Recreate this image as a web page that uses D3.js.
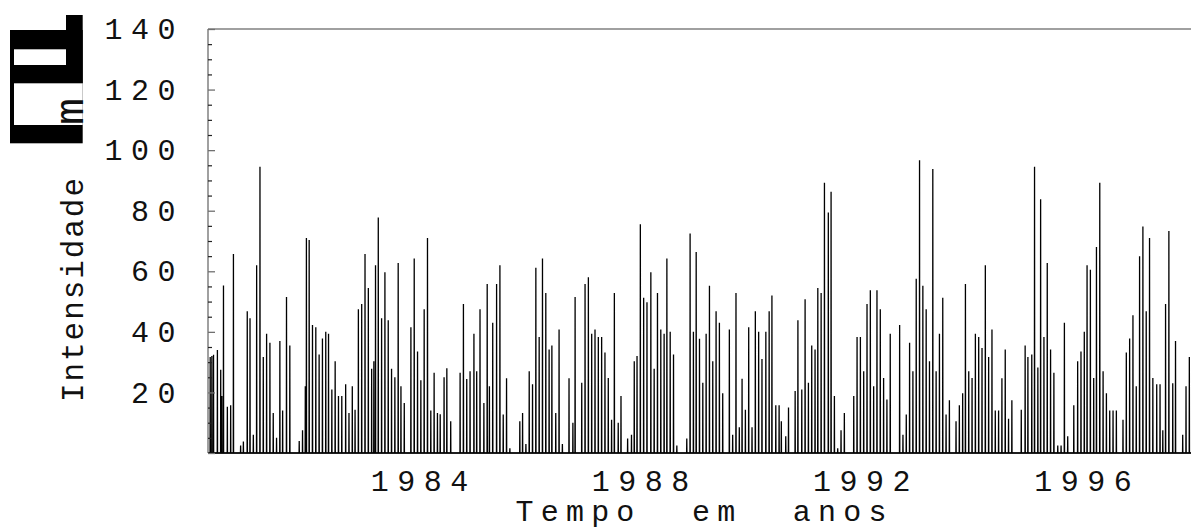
<!DOCTYPE html>
<html>
<head>
<meta charset="utf-8">
<script src="https://cdn.jsdelivr.net/npm/d3@7"></script>
<style>
  html, body { margin: 0; padding: 0; background: #fff; }
  svg { display: block; }
  text { font-family: "Liberation Mono", "DejaVu Sans Mono", monospace; fill: #111; }
</style>
</head>
<body>
<svg id="chart" width="1191" height="528"></svg>
<script>
// Rain events: time in decimal years, intensity in mm
var years80s = [1980.22,1980.25,1980.28,1980.35,1980.41,1980.43,1980.46,1980.53,1980.59,1980.64,
  1980.77,1980.82,1980.89,1980.94,1981.00,1981.06,1981.12,1981.18,1981.24,1981.30,
  1981.36,1981.42,1981.48,1981.53,1981.60,1981.66,1981.83,1981.89,1981.94,1981.96,
  1982.01,1982.07,1982.13,1982.19,1982.25,1982.31,1982.36,1982.42,1982.48,1982.54,
  1982.60,1982.67,1982.73,1982.79,1982.84,1982.90,1982.96,1983.02,1983.08,1983.14,
  1983.18,1983.21,1983.26,1983.32,1983.38,1983.44,1983.50,1983.56,1983.62,1983.67,
  1983.73,1983.85,1983.91,1983.97,1984.03,1984.09,1984.15,1984.21,1984.27,1984.33,
  1984.38,1984.45,1984.50,1984.57,1984.74,1984.80,1984.86,1984.92,1984.99,1985.04,
  1985.10,1985.17,1985.23,1985.27,1985.33,1985.40,1985.46,1985.52,1985.58,1985.64,
  1985.82,1985.87,1985.93,1985.99,1986.05,1986.11,1986.17,1986.23,1986.29,1986.35,
  1986.40,1986.47,1986.53,1986.59,1986.71,1986.78,1986.82,1986.94,1987.00,1987.06,
  1987.12,1987.18,1987.24,1987.30,1987.36,1987.42,1987.48,1987.53,1987.60,1987.65,
  1987.77,1987.84,1987.89,1987.94,1988.00,1988.06,1988.12,1988.19,1988.25,1988.31,
  1988.37,1988.43,1988.48,1988.54,1988.60,1988.66,1988.84,1988.90,1988.96,1989.01,
  1989.07,1989.13,1989.19,1989.25,1989.31,1989.37,1989.43,1989.49,1989.61,1989.67,
  1989.73,1989.79,1989.84,1989.90,1989.96];
var mm80s = [31.7,32,32.4,34,27.5,18.8,55.3,15.3,15.8,65.7,
  2.5,3.8,46.8,44.5,6,62,94.5,31.7,39.4,36.4,
  13.2,5,37,14,51.5,35.5,4,7.5,22,71,
  70.3,42.3,41.5,32.5,37.8,40,39.4,21,30.3,18.8,
  18.8,22.7,13.2,22,14.3,47.5,49.2,65.7,54.5,27.8,
  30.3,62,77.8,44.5,59.7,43.8,27.8,25,62.7,22,
  16.5,41.5,64.2,33.5,24,47.5,71,14,26.5,13.2,
  12.8,25,28,10.5,26.5,49.2,24.4,27,39.4,27,
  47.5,16.5,55.8,22,43,55.8,62,12.7,24.7,1.6,
  10.5,13.2,3,27,22.7,61.2,38.3,64.2,52.8,34.2,
  35.5,13.2,40.8,3,24.7,10,51.5,23.2,55.8,58,
  39.4,40.8,38.3,38.3,33.2,24.8,11,52.8,10,18.8,
  4.8,6,30.3,32,75.5,51.3,49.8,59.7,27.8,52.8,
  40.8,39.4,64.2,40,32.5,2.5,4.8,72.5,40,66.4,
  37.7,23.2,39.4,55.2,30.3,46.8,43,19.7,40.8,6,
  52.8,8.5,24.5,14.3,41.5];

var years90s = [1990.02,1990.08,1990.14,1990.20,1990.27,1990.33,1990.38,1990.45,1990.51,1990.55,
  1990.63,1990.68,1990.80,1990.85,1990.92,1990.98,1991.04,1991.10,1991.16,1991.21,
  1991.27,1991.33,1991.40,1991.45,1991.51,1991.57,1991.63,1991.69,1991.86,1991.92,
  1991.98,1992.04,1992.10,1992.16,1992.22,1992.28,1992.34,1992.40,1992.46,1992.52,
  1992.69,1992.75,1992.81,1992.87,1992.93,1992.99,1993.05,1993.11,1993.17,1993.23,
  1993.29,1993.35,1993.41,1993.47,1993.53,1993.59,1993.71,1993.77,1993.83,1993.88,
  1993.94,1994.00,1994.06,1994.12,1994.18,1994.24,1994.30,1994.36,1994.42,1994.48,
  1994.54,1994.60,1994.66,1994.72,1994.89,1994.96,1995.01,1995.08,1995.13,1995.19,
  1995.24,1995.30,1995.36,1995.42,1995.48,1995.55,1995.61,1995.67,1995.73,1995.84,
  1995.91,1995.97,1996.03,1996.08,1996.14,1996.20,1996.25,1996.31,1996.37,1996.43,
  1996.49,1996.55,1996.61,1996.73,1996.79,1996.85,1996.91,1996.97,1997.03,1997.09,
  1997.15,1997.21,1997.27,1997.34,1997.40,1997.45,1997.50,1997.56,1997.63,1997.68,
  1997.81,1997.87,1997.93];
var mm90s = [8.5,46.8,40,31,40,46.8,52,15.8,15.8,10.5,
  5.5,15,20.5,43.8,21,50.8,23.2,35.5,34.2,54.5,
  52.8,89.2,79.4,86.3,18.8,1.6,7.5,13.2,18.8,38.3,
  38.3,27,49.2,53.7,22,53.7,47.5,24.8,17.7,39.4,
  42.3,6,12.7,36.4,27,57.5,96.7,55.2,47.5,30.3,
  93.8,27,39.4,51.3,12.7,17.4,10.5,15.8,19.7,55.8,
  27,24.8,39.4,38.3,34.7,62,31.7,40.8,14,14,
  24.7,34.2,11.3,17.4,14.3,35.5,31.7,32.5,94.5,28.2,
  83.8,38.3,62.7,34.2,26.5,2.5,2.5,43,5.5,15.8,
  30.3,33.5,40,62,60.5,24.8,68,89.2,27,19.7,
  14,14,14,11,33.2,37.8,45.5,22,65,74.8,
  46.8,71,24.8,22.7,22.7,7.5,49.2,73.3,23,37,
  6,22,31.7];

var yTicksMajor = [0, 20, 40, 60, 80, 100, 120, 140];
var yTickLabels = [20, 40, 60, 80, 100, 120, 140];
var xTickYears = [1984, 1988, 1992, 1996];

var svg = d3.select("#chart");
var plotLeft = 208, plotRight = 1191, plotTop = 29, plotBottom = 453;

var x = d3.scaleLinear().domain([1980.18, 1997.96]).range([plotLeft, plotRight]);
var y = d3.scaleLinear().domain([0, 140]).range([plotBottom, plotTop]);

// each event is one wet day between dry days
var oneDay = 1 / 365;
var points = [];
var allYears = years80s.concat(years90s);
var allMm = mm80s.concat(mm90s);
points.push([1980.18, 0]);
allYears.forEach(function(t, i) {
  points.push([t - oneDay, 0]);
  points.push([t, allMm[i]]);
  points.push([t + oneDay, 0]);
});
points.push([1997.96, 0]);

svg.append("clipPath").attr("id", "plotClip")
  .append("rect")
    .attr("x", plotLeft).attr("y", plotTop - 2)
    .attr("width", plotRight - plotLeft).attr("height", plotBottom - plotTop + 4);

var line = d3.line()
  .x(function(d) { return x(d[0]); })
  .y(function(d) { return y(d[1]); });

svg.append("path")
  .datum(points)
  .attr("clip-path", "url(#plotClip)")
  .attr("d", line)
  .attr("fill", "none")
  .attr("stroke", "#000")
  .attr("stroke-width", 1.3);

// frame
svg.append("line").attr("x1", plotLeft).attr("x2", plotRight).attr("y1", plotTop).attr("y2", plotTop)
  .attr("stroke", "#808080").attr("stroke-width", 1.5);
svg.append("line").attr("x1", plotLeft).attr("x2", plotLeft).attr("y1", plotTop).attr("y2", plotBottom)
  .attr("stroke", "#808080").attr("stroke-width", 1.5);
svg.append("line").attr("x1", plotLeft).attr("x2", plotRight).attr("y1", plotBottom).attr("y2", plotBottom)
  .attr("stroke", "#000").attr("stroke-width", 1.2);

// ticks pointing inside the frame
var minorTicks = d3.range(5, 140, 5).filter(function(v) { return v % 20 !== 0; });
var majorAxis = svg.append("g")
  .attr("transform", "translate(" + plotLeft + ",0)")
  .call(d3.axisRight(y).tickValues(yTicksMajor).tickSize(7).tickFormat(""));
majorAxis.select(".domain").remove();
majorAxis.selectAll("line").attr("stroke", "#707070").attr("stroke-width", 1.3);

var minorAxis = svg.append("g")
  .attr("transform", "translate(" + plotLeft + ",0)")
  .call(d3.axisRight(y).tickValues(minorTicks).tickSize(4).tickFormat(""));
minorAxis.select(".domain").remove();
minorAxis.selectAll("line").attr("stroke", "#222").attr("stroke-width", 1.2);

// y tick labels
var yLabels = svg.append("g")
  .attr("transform", "translate(" + plotLeft + ",0)")
  .call(d3.axisLeft(y).tickValues(yTickLabels).tickSize(0).tickPadding(24));
yLabels.select(".domain").remove();
yLabels.selectAll("text")
  .attr("font-family", "Liberation Mono")
  .attr("font-size", 30)
  .attr("letter-spacing", "8.5px")
  .attr("fill", "#111");

// x tick labels
var xLabels = svg.append("g")
  .attr("transform", "translate(0," + plotBottom + ")")
  .call(d3.axisBottom(x).tickValues(xTickYears).tickSize(0).tickPadding(17)
    .tickFormat(d3.format("d")));
xLabels.select(".domain").remove();
xLabels.selectAll("text")
  .attr("font-family", "Liberation Mono")
  .attr("font-size", 30)
  .attr("letter-spacing", "8.5px")
  .attr("dx", "4px")
  .attr("fill", "#111");

// axis titles
svg.append("text")
  .attr("x", 701).attr("y", 521)
  .attr("text-anchor", "middle")
  .attr("font-size", 30)
  .attr("textLength", 371)
  .attr("lengthAdjust", "spacing")
  .style("white-space", "pre")
  .text("Tempo  em  anos");

svg.append("text")
  .attr("transform", "translate(83,402) rotate(-90)")
  .attr("font-size", 31)
  .attr("textLength", 224)
  .attr("lengthAdjust", "spacing")
  .text("Intensidade");

// the oversized bracket glyphs of the unit label
var unit = svg.append("g");
unit.append("rect").attr("x", 10).attr("y", 30).attr("width", 72.7).attr("height", 113.3).attr("fill", "#000");
unit.append("rect").attr("x", 66).attr("y", 15).attr("width", 16.7).attr("height", 68.3).attr("fill", "#000");
unit.append("rect").attr("x", 14).attr("y", 49.3).attr("width", 52).attr("height", 15.7).attr("fill", "#fff");
unit.append("rect").attr("x", 14).attr("y", 83.3).attr("width", 68.7).attr("height", 41.7).attr("fill", "#fff");
unit.append("text")
  .attr("transform", "translate(83,125) rotate(-90)")
  .attr("font-size", 40)
  .attr("textLength", 27)
  .attr("lengthAdjust", "spacingAndGlyphs")
  .text("m");
</script>
</body>
</html>
